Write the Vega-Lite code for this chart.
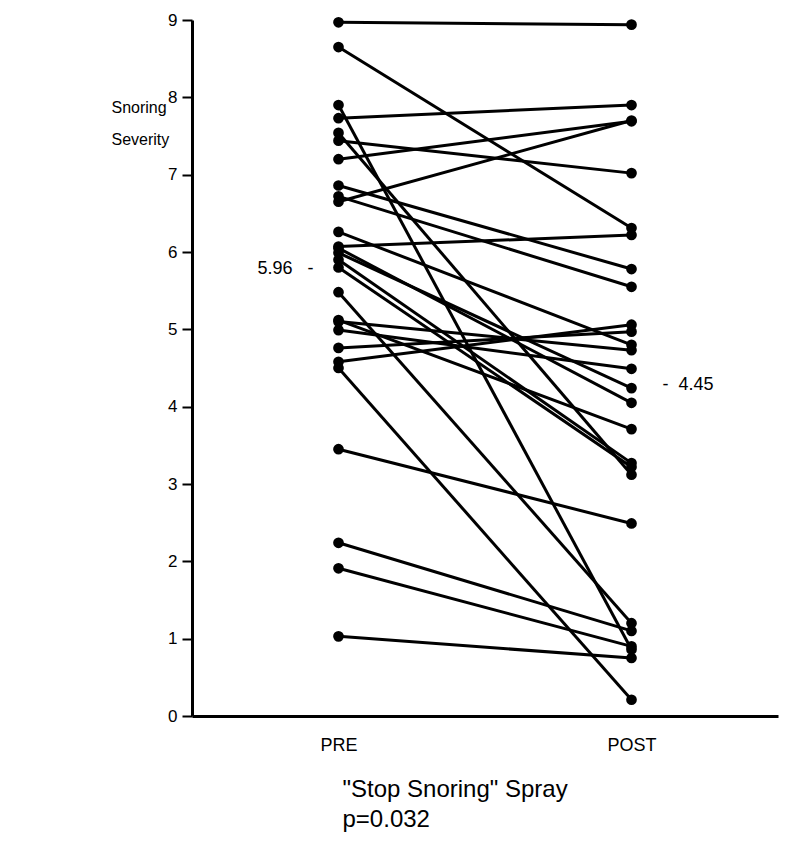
{
  "$schema": "https://vega.github.io/schema/vega-lite/v6.json",
  "width": 586,
  "height": 696,
  "autosize": "none",
  "padding": {"left": 192, "top": 20, "right": 7, "bottom": 125},
  "background": "white",
  "config": {
    "view": {"stroke": null},
    "font": "Liberation Sans",
    "axis": {
      "labelFont": "Liberation Sans",
      "titleFont": "Liberation Sans",
      "labelColor": "black",
      "titleColor": "black",
      "domainColor": "black",
      "tickColor": "black",
      "grid": false
    }
  },
  "datasets": {
    "scores": [
      {"subject": 1, "phase": "PRE", "score": 8.97}, {"subject": 1, "phase": "POST", "score": 8.94},
      {"subject": 2, "phase": "PRE", "score": 8.65}, {"subject": 2, "phase": "POST", "score": 6.31},
      {"subject": 3, "phase": "PRE", "score": 7.90}, {"subject": 3, "phase": "POST", "score": 0.86},
      {"subject": 4, "phase": "PRE", "score": 7.73}, {"subject": 4, "phase": "POST", "score": 7.90},
      {"subject": 5, "phase": "PRE", "score": 7.54}, {"subject": 5, "phase": "POST", "score": 3.12},
      {"subject": 6, "phase": "PRE", "score": 7.44}, {"subject": 6, "phase": "POST", "score": 7.02},
      {"subject": 7, "phase": "PRE", "score": 7.20}, {"subject": 7, "phase": "POST", "score": 7.69},
      {"subject": 8, "phase": "PRE", "score": 6.86}, {"subject": 8, "phase": "POST", "score": 5.78},
      {"subject": 9, "phase": "PRE", "score": 6.72}, {"subject": 9, "phase": "POST", "score": 5.55},
      {"subject": 10, "phase": "PRE", "score": 6.65}, {"subject": 10, "phase": "POST", "score": 7.70},
      {"subject": 11, "phase": "PRE", "score": 6.26}, {"subject": 11, "phase": "POST", "score": 4.80},
      {"subject": 12, "phase": "PRE", "score": 6.07}, {"subject": 12, "phase": "POST", "score": 6.22},
      {"subject": 13, "phase": "PRE", "score": 6.05}, {"subject": 13, "phase": "POST", "score": 4.05},
      {"subject": 14, "phase": "PRE", "score": 5.99}, {"subject": 14, "phase": "POST", "score": 4.24},
      {"subject": 15, "phase": "PRE", "score": 5.90}, {"subject": 15, "phase": "POST", "score": 3.27},
      {"subject": 16, "phase": "PRE", "score": 5.80}, {"subject": 16, "phase": "POST", "score": 3.22},
      {"subject": 17, "phase": "PRE", "score": 5.48}, {"subject": 17, "phase": "POST", "score": 1.20},
      {"subject": 18, "phase": "PRE", "score": 5.10}, {"subject": 18, "phase": "POST", "score": 4.73},
      {"subject": 19, "phase": "PRE", "score": 5.12}, {"subject": 19, "phase": "POST", "score": 3.71},
      {"subject": 20, "phase": "PRE", "score": 4.99}, {"subject": 20, "phase": "POST", "score": 4.49},
      {"subject": 21, "phase": "PRE", "score": 4.76}, {"subject": 21, "phase": "POST", "score": 4.97},
      {"subject": 22, "phase": "PRE", "score": 4.58}, {"subject": 22, "phase": "POST", "score": 5.06},
      {"subject": 23, "phase": "PRE", "score": 4.50}, {"subject": 23, "phase": "POST", "score": 0.21},
      {"subject": 24, "phase": "PRE", "score": 3.45}, {"subject": 24, "phase": "POST", "score": 2.49},
      {"subject": 25, "phase": "PRE", "score": 2.24}, {"subject": 25, "phase": "POST", "score": 1.10},
      {"subject": 26, "phase": "PRE", "score": 1.91}, {"subject": 26, "phase": "POST", "score": 0.90},
      {"subject": 27, "phase": "PRE", "score": 1.03}, {"subject": 27, "phase": "POST", "score": 0.75}
    ],
    "means": [
      {"phase": "PRE", "value": 5.78, "label": "5.96\u00a0\u00a0\u00a0-"},
      {"phase": "POST", "value": 4.28, "label": "-\u00a0\u00a04.45"}
    ]
  },
  "layer": [
    {
      "data": {"name": "scores"},
      "mark": {"type": "line", "color": "black", "strokeWidth": 3},
      "encoding": {
        "x": {
          "field": "phase", "type": "nominal", "sort": ["PRE", "POST"],
          "scale": {"type": "point", "padding": 0.5},
          "axis": {
            "title": ["\"Stop Snoring\" Spray", "p=0.032"],
            "ticks": false,
            "labelAngle": 0,
            "labelFontSize": 18,
            "labelPadding": 20,
            "domainWidth": 3,
            "titleFontSize": 24,
            "titleFontWeight": "normal",
            "titleAnchor": "start",
            "titleAlign": "left",
            "titleBaseline": "top",
            "titleX": 150,
            "titleY": 61,
            "titleLineHeight": 30
          }
        },
        "y": {
          "field": "score", "type": "quantitative",
          "scale": {"domain": [0, 9], "nice": false},
          "axis": {
            "title": ["Snoring", "Severity"],
            "titleAngle": 0,
            "titleAlign": "left",
            "titleBaseline": "top",
            "titleX": -81,
            "titleY": 79,
            "titleFontSize": 16,
            "titleFontWeight": "normal",
            "titleLineHeight": 32,
            "values": [0, 1, 2, 3, 4, 5, 6, 7, 8, 9],
            "format": "d",
            "tickSize": 10,
            "tickWidth": 2,
            "domainWidth": 3,
            "labelFontSize": 17,
            "labelPadding": 5
          }
        },
        "detail": {"field": "subject", "type": "nominal"}
      }
    },
    {
      "data": {"name": "scores"},
      "mark": {"type": "point", "filled": true, "color": "black", "size": 115, "opacity": 1},
      "encoding": {
        "x": {"field": "phase", "type": "nominal", "sort": ["PRE", "POST"]},
        "y": {"field": "score", "type": "quantitative"}
      }
    },
    {
      "data": {"name": "means"},
      "transform": [{"filter": "datum.phase === 'PRE'"}],
      "mark": {"type": "text", "align": "right", "baseline": "middle", "dx": -25, "fontSize": 18, "font": "Liberation Sans", "color": "black"},
      "encoding": {
        "x": {"field": "phase", "type": "nominal", "sort": ["PRE", "POST"]},
        "y": {"field": "value", "type": "quantitative"},
        "text": {"field": "label"}
      }
    },
    {
      "data": {"name": "means"},
      "transform": [{"filter": "datum.phase === 'POST'"}],
      "mark": {"type": "text", "align": "left", "baseline": "middle", "dx": 31, "fontSize": 18, "font": "Liberation Sans", "color": "black"},
      "encoding": {
        "x": {"field": "phase", "type": "nominal", "sort": ["PRE", "POST"]},
        "y": {"field": "value", "type": "quantitative"},
        "text": {"field": "label"}
      }
    }
  ]
}
